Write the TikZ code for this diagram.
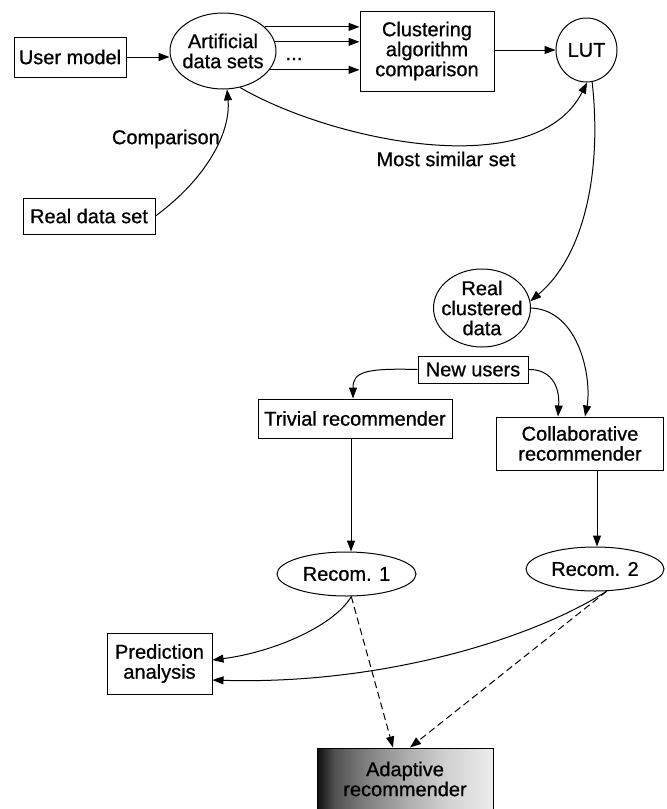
\documentclass[tikz,border=0pt]{standalone}
\usepackage{fontspec}
\setmainfont{Liberation Sans}[FakeBold=0.8]
\usetikzlibrary{arrows.meta,shapes.geometric,calc}
\pgfdeclarehorizontalshading{adgrad}{100bp}{color(0bp)=(black); color(25bp)=(black!95); color(30bp)=(black!68); color(40bp)=(black!48); color(50bp)=(black!33); color(62bp)=(black!18); color(75bp)=(white!93!black); color(100bp)=(white!93!black)}
\begin{document}
\begin{tikzpicture}[x=1pt,y=-1pt,
  every node/.style={font=\fontsize{20}{20}\selectfont, align=center},
  box/.style={draw, line width=1pt, rectangle, inner sep=0pt},
  ell/.style={draw, line width=1pt, ellipse, inner sep=-20pt},
  arr/.style={line width=1pt, -{Triangle[length=11pt,width=8pt]}},
  dasharr/.style={arr, dash pattern=on 7pt off 4pt},
  lbl/.style={inner sep=0pt},
  shadedbox/.style={box, shading=adgrad}]
\useasboundingbox (0,0) rectangle (667,809);
% nodes
\node[box, minimum width=112pt, minimum height=40pt] (um) at (70,57) {User model};
\node[ell, minimum width=106pt, minimum height=76pt] (ads) at (223,51) {Artificial\\data sets};
\node[box, minimum width=134pt, minimum height=80pt] (clu) at (427,51) {Clustering\\algorithm\\comparison};
\node[ell, minimum width=61pt, minimum height=64pt] (lut) at (586.5,50) {LUT};
\node[box, minimum width=132pt, minimum height=36pt] (rds) at (89,216) {Real data set};
\node[ell, minimum width=97pt, minimum height=78pt] (rcd) at (482,308) {Real\\clustered\\data};
\node[box, minimum width=110pt, minimum height=27pt] (nu) at (473,369.5) {New users};
\node[box, minimum width=194pt, minimum height=39pt] (triv) at (355,418.5) {Trivial recommender};
\node[box, minimum width=167pt, minimum height=53pt] (col) at (580,443.5) {Collaborative\\recommender};
\node[ell, minimum width=139pt, minimum height=44pt] (r1) at (346.5,574) {Recom. 1};
\node[ell, minimum width=138pt, minimum height=44pt] (r2) at (595,569) {Recom. 2};
\node[box, minimum width=105pt, minimum height=61pt] (pa) at (159.5,663.5) {Prediction\\analysis};
\node[shadedbox, minimum width=176pt, minimum height=62pt] (ad) at (405,779) {Adaptive\\recommender};
% labels
\node[lbl] (dots) at (294,59) {...};
\node[lbl, anchor=east] (cmp) at (220,139) {Comparison};
\node[lbl] (msl) at (446,159) {Most similar set};
% connectors
\draw[arr] (um.east) -- (ads.west |- um.east);
\draw[arr] (ads.30) -- (clu.west |- ads.30);
\draw[arr] (ads.10) -- (clu.west |- ads.10);
\draw[arr] (ads.-22) -- (clu.west |- ads.-22);
\draw[arr] (clu.east |- lut.west) -- (lut.west);
\draw[arr] (ads.-65) .. controls (330,140) and (535,185) .. (lut.-89);
\draw[arr] (rds.east) .. controls (207,178) and (231,132) .. (ads.-84);
\draw[arr] (lut.-80) .. controls (602,170) and (585,255) .. (rcd.8);
\draw[arr] (rcd.east) .. controls (580,310) and (592,380) .. ($(col.north)+(5,0)$);
\draw[arr] (nu.west) .. controls (365,368) and (353,372) .. ($(triv.north)+(-2,0)$);
\draw[arr] (nu.east) .. controls (550,369) and (560,385) .. ($(col.north)+(-22,0)$);
\draw[arr] ($(triv.south)+(-4,0)$) -- ($(r1.north)+(4.5,0)$);
\draw[arr] ($(col.south)+(17,0)$) -- ($(r2.north)+(2,0)$);
\draw[arr] (r1.-78) .. controls (335,625) and (275,652) .. ($(pa.east)+(0,-3.5)$);
\draw[arr] (r2.-62) .. controls (530,640) and (380,685) .. ($(pa.east)+(0,16.5)$);
\draw[dasharr] (r1.-78) -- ($(ad.north)+(-12,0)$);
\draw[dasharr] (r2.-62) -- ($(ad.north)+(5,0)$);
\end{tikzpicture}
\end{document}
